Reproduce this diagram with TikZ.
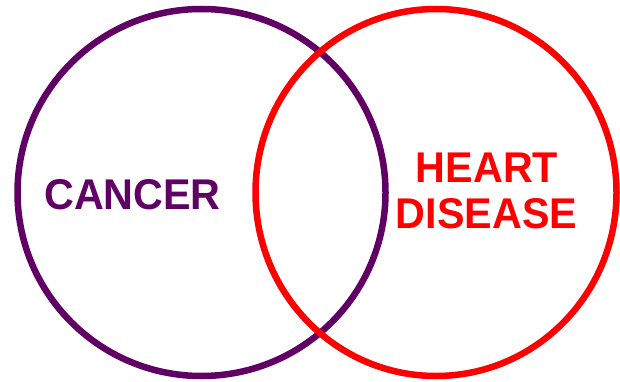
\documentclass[tikz,border=0pt]{standalone}
\usepackage{fontspec}
\setmainfont{Liberation Sans}
\definecolor{vpurple}{RGB}{96,0,100}
\definecolor{vred}{RGB}{255,0,0}
\begin{document}
\begin{tikzpicture}[x=1pt,y=-1pt,
  ring/.style={line width=6.5pt},
  label/.style={font=\fontsize{43}{46}\selectfont\bfseries, inner sep=0pt, anchor=base}]
\useasboundingbox (0,0) rectangle (620,382);
\draw[ring, vpurple] (201.5,192.5) ellipse [x radius=184, y radius=183.5];
\draw[ring, vred] (436,192.5) ellipse [x radius=180.5, y radius=183.5];
\node[label, text=vpurple] (cancer) at (132.5,209) {\scalebox{0.96}[1]{CANCER}};
\node[label, text=vred] (heart) at (487,182) {\scalebox{0.96}[1]{HEART}};
\node[label, text=vred] (disease) at (486.5,228) {\scalebox{0.96}[1]{DISEASE}};
\end{tikzpicture}
\end{document}
